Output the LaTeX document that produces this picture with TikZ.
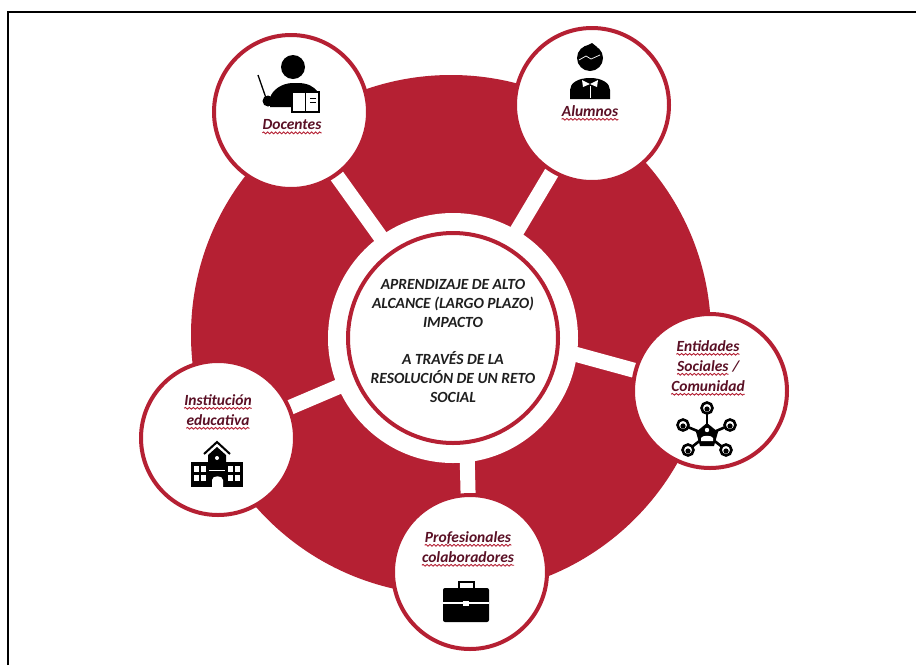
\documentclass[tikz,border=0pt]{standalone}
\usepackage{fontspec}
\setmainfont{Carlito}
\usetikzlibrary{decorations.pathmorphing}
\definecolor{cred}{HTML}{B52033}
\definecolor{ctxt}{HTML}{5A1025}
\tikzset{
 x=1pt,y=-1pt,
 sat/.style={circle,draw=cred,line width=4pt,fill=white,minimum size=154pt,inner sep=0pt},
 link/.style={white,line width=15pt},
 lbl/.style={font=\bfseries\itshape\fontsize{15.5}{20}\selectfont,text=ctxt,align=center,inner sep=0pt},
 ico/.style={fill=black,draw=none},
}
\newcommand{\wavy}[1]{\tikz[baseline=0pt,x=1pt,y=1pt]{\node[inner sep=0pt,anchor=base] (w) {#1};\draw[cred,line width=.9pt,decorate,decoration={snake,amplitude=.9pt,segment length=4pt}] ([yshift=-3pt]w.base west) -- ([yshift=-3pt]w.base east);}}
\begin{document}
\begin{tikzpicture}
\useasboundingbox (0,0) rectangle (916,665);
\fill[white] (0,0) rectangle (916,665);
\draw[black,line width=1.5pt] (8,665) -- (8,12) -- (916,12);
\node[circle,fill=cred,minimum size=520pt,inner sep=0pt] (big) at (451,335) {};
\coordinate (c) at (453,338);
\coordinate (pd) at (291,112);
\coordinate (pa) at (592,105);
\coordinate (pe) at (710,391);
\coordinate (pi) at (218,438);
\coordinate (pp) at (470,572);
\coordinate (se) at (560,350);
\coordinate (sb) at (467,450);
\draw[link] (c) -- (pd);
\draw[link] (c) -- (pa);
\draw[link] (se) -- (pe);
\draw[link] (c) -- (pi);
\draw[link] (sb) -- (pp);
\node[circle,fill=white,minimum size=250pt,inner sep=0pt] (ring) at (c) {};
\node[circle,draw=cred,line width=4pt,fill=white,minimum size=210pt,inner sep=0pt] (centro) at (c) {};
\node[inner sep=0pt,align=center,font=\bfseries\itshape\fontsize{15.5}{18.7}\selectfont,text=black!88] (ctext) at (453,341) {APRENDIZAJE DE ALTO\\ALCANCE (LARGO PLAZO)\\IMPACTO\\[18.7pt]A TRAVÉS DE LA\\RESOLUCIÓN DE UN RETO\\SOCIAL};
\node[sat] (doc) at (pd) {};
\node[sat] (alu) at (pa) {};
\node[sat] (ent) at (pe) {};
\node[sat] (ins) at (pi) {};
\node[sat] (pro) at (pp) {};
% labels
\node[lbl] (tdoc) at (292,127) {\wavy{Docentes}};
\node[lbl] (talu) at (590,113) {\wavy{Alumnos}};
\node[lbl] (tent) at (708,368) {\wavy{Entidades}\\\wavy{Sociales} /\\\wavy{Comunidad}};
\node[lbl] (tins) at (218,412) {\wavy{Institución}\\\wavy{educativa}};
\node[lbl] (tpro) at (468,549) {\wavy{Profesionales}\\\wavy{colaboradores}};
% Docentes icon
\fill[ico] (293,67) circle (12);
\fill[ico] (270,107) -- (270,98) .. controls (272,90) and (282,83) .. (293,83) -- (298,83) .. controls (308,83) and (314,87) .. (317,91) -- (292,91) -- (292,107) -- cycle;
\fill[ico] (268,101) circle (5.5);
\draw[black,line width=1.3pt] (258,75) -- (266,98);
\draw[black,line width=2pt,fill=white] (292,92) rectangle (319,112);
\draw[black,line width=1.6pt] (305.5,92) -- (305.5,112);
\draw[black,line width=1pt] (310,98) -- (316,98) (310,102) -- (316,102);
% Alumnos icon
\fill[ico] (590,58) circle (13);
\fill[ico] (592,43) -- (597,47) -- (584,47) -- cycle;
\draw[white,line width=.7pt] (579,60) -- (586,56) -- (591,59) -- (600,55);
\fill[ico] (570,99) -- (570,90) .. controls (570,83) and (578,78) .. (590,78) .. controls (602,78) and (610,83) .. (610,90) -- (610,99) -- cycle;
\fill[white] (590,84) -- (582,80) -- (583,87) -- cycle (590,84) -- (598,80) -- (597,87) -- cycle;
\draw[white,line width=.5pt] (590,86) -- (590,98);
% Entidades icon
\coordinate (hub) at (707,435);
\foreach \px/\py in {707/408,683/425,730/425,688/450,726/450}{
 \draw[black,line width=2.6pt] (hub) -- (\px,\py);
 \draw[black,line width=2.6pt,fill=white] (\px,\py) circle (5.5);
 \fill[black] (\px,\py+1) circle (2.6);
}
\fill[ico] (707,423) -- (718,432) -- (714,446) -- (700,446) -- (696,432) -- cycle;
\fill[white] (707,430) circle (2.2);
\fill[white] (701,441) -- (701,438) .. controls (702,435) and (712,435) .. (713,438) -- (713,441) -- cycle;
% Institucion icon
\fill[ico] (191,487) rectangle (243,462);
\fill[ico] (208,470) -- (208,455) -- (217,447) -- (226,455) -- (226,470) -- cycle;
\draw[black,line width=2pt] (204,454) -- (217,442) -- (230,454);
\fill[white] (217,458) circle (2);
\foreach \gx in {194,201,228,235}{\foreach \gy in {466,475}{\fill[white] (\gx,\gy) rectangle +(5,5.5);}}
\fill[white] (212,487) -- (212,480) .. controls (212,475) and (223,475) .. (223,480) -- (223,487) -- cycle;
\draw[white,line width=1pt] (209,470) -- (225,470);
% Profesionales icon
\fill[ico,rounded corners=2pt] (443,588) rectangle (489,622);
\draw[black,line width=2.4pt] (459,588) -- (459,582) -- (474,582) -- (474,588);
\draw[white,line width=1.2pt] (443,603) -- (489,603);
\fill[white] (463,601) rectangle (469,606);
\end{tikzpicture}
\end{document}
